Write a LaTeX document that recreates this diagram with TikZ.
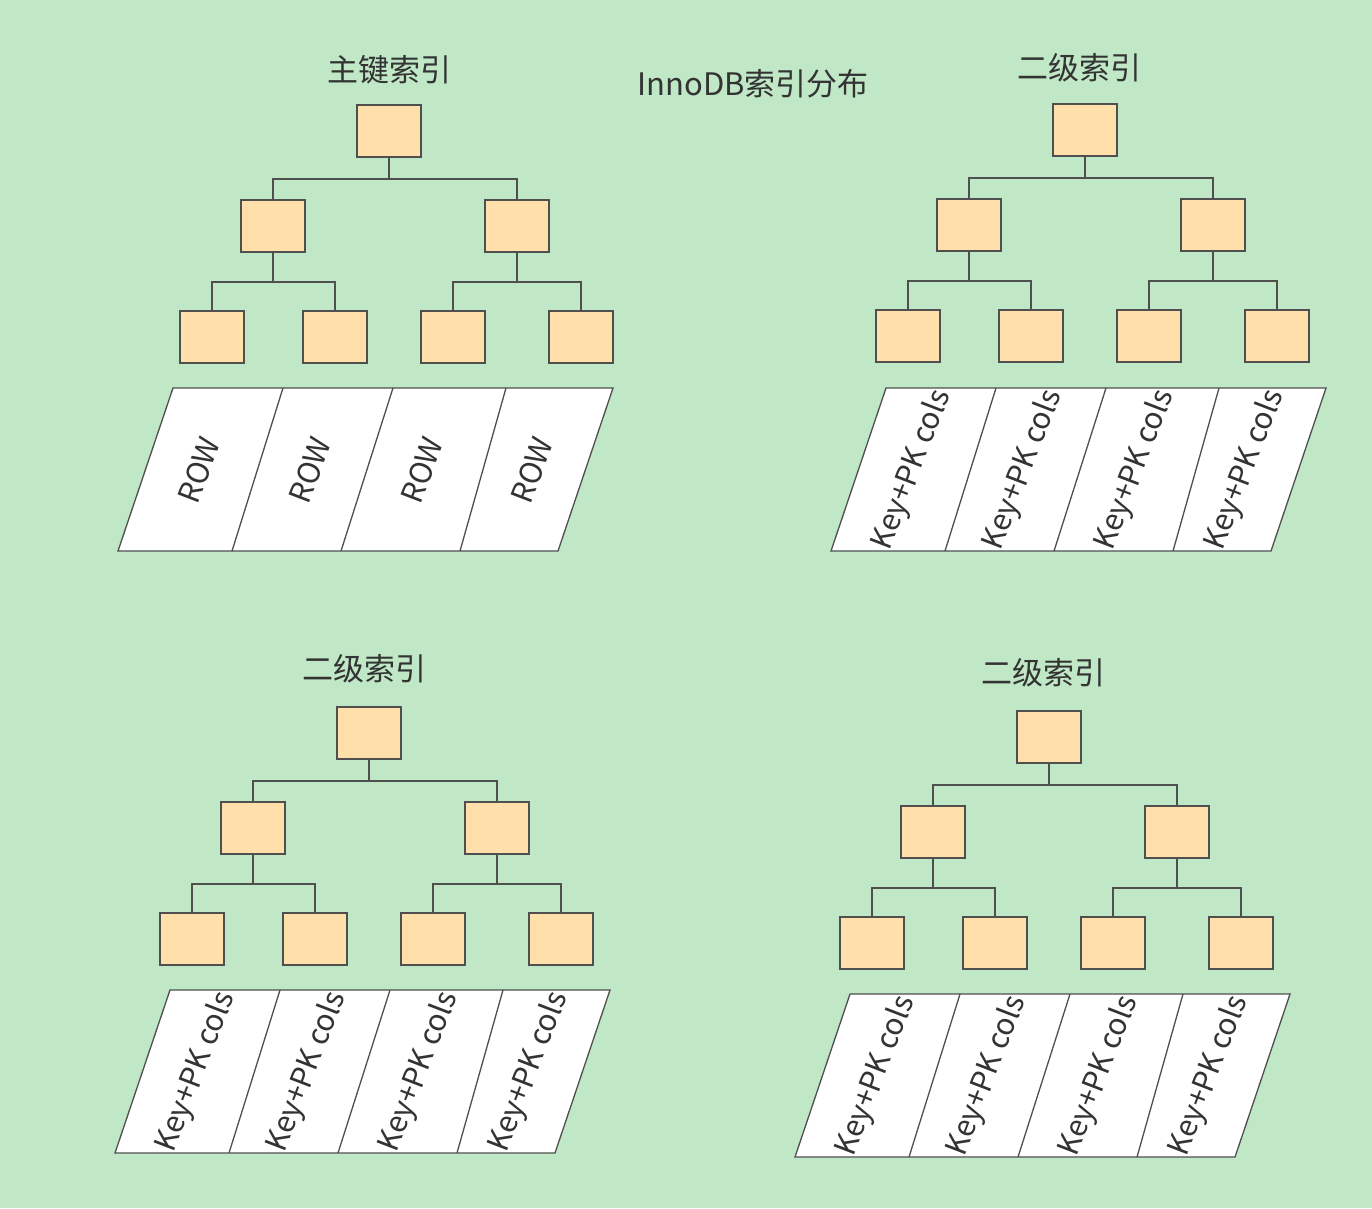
\documentclass[tikz,border=0pt]{standalone}
\usepackage{fontspec}
\setmainfont{Noto Sans CJK SC}
\definecolor{bgc}{HTML}{C0E7C6}
\definecolor{boxfill}{HTML}{FFDFAA}
\definecolor{linec}{HTML}{4F4F4F}
\definecolor{txtc}{HTML}{333333}
\tikzset{
  idxbox/.style={draw=linec, line width=1.6pt, fill=boxfill, minimum width=64pt, minimum height=52pt, inner sep=0pt, outer sep=0pt},
  conn/.style={draw=linec, line width=1.4pt},
  leafrow/.style={draw=linec, line width=1.3pt, fill=white},
  celltxt/.style={text=txtc, rotate=69, inner sep=0pt, font=\fontsize{30}{34}\selectfont},
  titletxt/.style={text=txtc, inner sep=0pt, font=\fontsize{31}{36}\selectfont}
}
\newcommand\idxtree[3]{%
  \begin{scope}[shift={(#2,#3)}]
    \node[idxbox] (#1r) at (0,26) {};
    \node[idxbox] (#1a) at (-116,121) {};
    \node[idxbox] (#1b) at (128,121) {};
    \node[idxbox] (#1aa) at (-177,232) {};
    \node[idxbox] (#1ab) at (-54,232) {};
    \node[idxbox] (#1ba) at (64,232) {};
    \node[idxbox] (#1bb) at (192,232) {};
    \coordinate (#1j) at (0,74);
    \coordinate (#1ja) at (-116,177);
    \coordinate (#1jb) at (128,177);
    \draw[conn] (#1r.south) -- (#1j);
    \draw[conn] (#1j) -| (#1a.north);
    \draw[conn] (#1j) -| (#1b.north);
    \draw[conn] (#1a.south) -- (#1ja);
    \draw[conn] (#1ja) -| (#1aa.north);
    \draw[conn] (#1ja) -| (#1ab.north);
    \draw[conn] (#1b.south) -- (#1jb);
    \draw[conn] (#1jb) -| (#1ba.north);
    \draw[conn] (#1jb) -| (#1bb.north);
  \end{scope}}
\newcommand\leafrows[4]{%
  \begin{scope}[shift={(#2,#3)}]
    \draw[leafrow] (0,0) -- (440,0) -- (385,163) -- (-55,163) -- cycle;
    \draw[leafrow] (110,0) -- (59,163);
    \draw[leafrow] (220,0) -- (168,163);
    \draw[leafrow] (333,0) -- (287,163);
    \node[celltxt] (#1c1) at (26,82) {#4};
    \node[celltxt] (#1c2) at (137,82) {#4};
    \node[celltxt] (#1c3) at (249,82) {#4};
    \node[celltxt] (#1c4) at (359,82) {#4};
  \end{scope}}
\begin{document}
\begin{tikzpicture}[x=1pt,y=-1pt]
  \fill[bgc] (0,0) rectangle (1372,1208);
  \useasboundingbox (0,0) rectangle (1372,1208);
  \node[titletxt] (main) at (753,84) {InnoDB索引分布};
  % top left
  \node[titletxt] (t1) at (389,70) {主键索引};
  \idxtree{p}{389}{105}
  \leafrows{pl}{173}{388}{ROW}
  % top right
  \node[titletxt] (t2) at (1079,68) {二级索引};
  \idxtree{s}{1085}{104}
  \leafrows{sl}{886}{388}{Key+PK cols}
  % bottom left
  \node[titletxt] (t3) at (364,669) {二级索引};
  \idxtree{u}{369}{707}
  \leafrows{ul}{170}{990}{Key+PK cols}
  % bottom right
  \node[titletxt] (t4) at (1043,673) {二级索引};
  \idxtree{v}{1049}{711}
  \leafrows{vl}{850}{994}{Key+PK cols}
\end{tikzpicture}
\end{document}
